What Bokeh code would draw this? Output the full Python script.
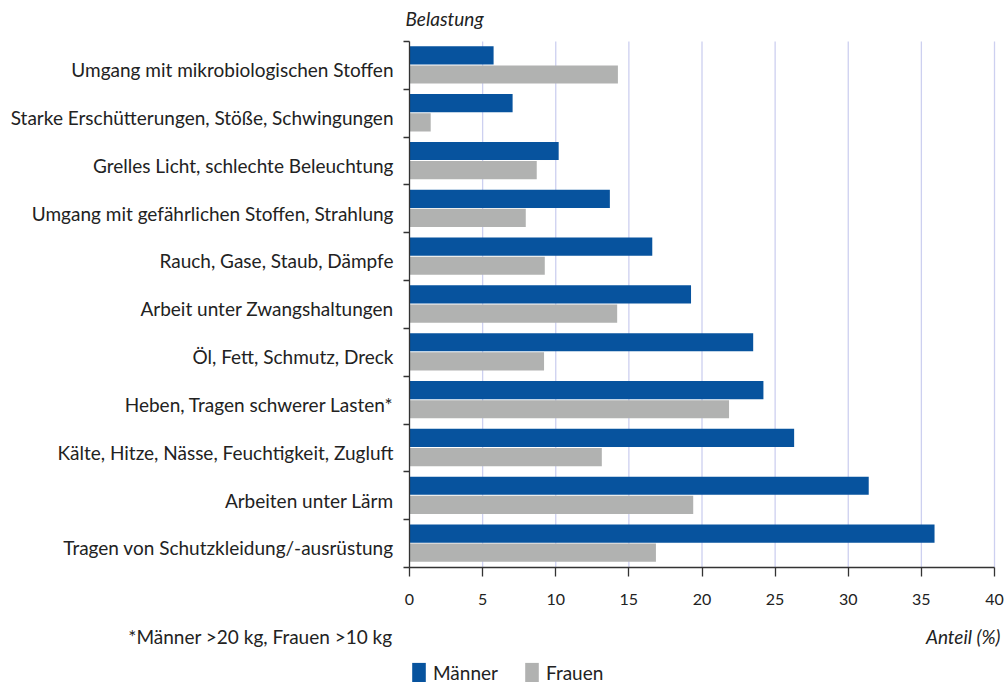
from bokeh.plotting import figure
from bokeh.models import (Range1d, FixedTicker, Label, Legend, LegendItem, ColumnDataSource)
from bokeh.embed import file_html
from bokeh.resources import INLINE

# Data (bottom to top)
categories = [
    "Tragen von Schutzkleidung/-ausrüstung",
    "Arbeiten unter Lärm",
    "Kälte, Hitze, Nässe, Feuchtigkeit, Zugluft",
    "Heben, Tragen schwerer Lasten*",
    "Öl, Fett, Schmutz, Dreck",
    "Arbeit unter Zwangshaltungen",
    "Rauch, Gase, Staub, Dämpfe",
    "Umgang mit gefährlichen Stoffen, Strahlung",
    "Grelles Licht, schlechte Beleuchtung",
    "Starke Erschütterungen, Stöße, Schwingungen",
    "Umgang mit mikrobiologischen Stoffen",
]
maenner = [35.9, 31.4, 26.3, 24.2, 23.5, 19.25, 16.6, 13.7, 10.2, 7.05, 5.75]
frauen = [16.85, 19.4, 13.15, 21.85, 9.2, 14.2, 9.25, 7.95, 8.7, 1.45, 14.25]
x_ticks = [0, 5, 10, 15, 20, 25, 30, 35, 40]

FONT = "Lato"
BLUE = "#07539E"
GREY = "#B1B2B1"
TXT = "#222222"
AXIS = "#333333"
GRID = "#CDD0F0"

n = len(categories)
centers = [i + 0.5 for i in range(n)]
label_pos = [c - 0.09 for c in centers]
bounds = [float(i) for i in range(n + 1)]

W, H = 1007, 682
# frame covers the whole canvas; axes are pinned at x=0 / y=0
PX_X = 14.625      # pixels per percent
PX_Y = 47.818      # pixels per category band
X0_PX, Y0_PX = 409, 567
x_range = Range1d(-X0_PX / PX_X, (W - X0_PX) / PX_X)
y_range = Range1d(-(H - Y0_PX) / PX_Y, Y0_PX / PX_Y)

src = ColumnDataSource(dict(
    cat=categories,
    y_m=[c + 0.21 for c in centers],
    y_f=[c - 0.19 for c in centers],
    m=maenner,
    f=frauen,
))
grid_src = ColumnDataSource(dict(x=x_ticks[1:], y0=[0] * (len(x_ticks) - 1),
                                 y1=[n] * (len(x_ticks) - 1)))

p = figure(width=W, height=H, output_backend="svg", toolbar_location=None,
           x_range=x_range, y_range=y_range,
           min_border_left=0, min_border_right=0, min_border_top=0,
           min_border_bottom=0)
p.outline_line_color = None
p.background_fill_color = "white"
p.border_fill_color = "white"
p.xgrid.grid_line_color = None
p.ygrid.grid_line_color = None

# vertical grid lines behind the bars
p.segment(x0="x", y0="y0", x1="x", y1="y1", source=grid_src,
          line_color=GRID, line_width=1.3, level="underlay")

r_m = p.hbar(y="y_m", left=0, right="m", height=0.38, source=src,
             fill_color=BLUE, line_color=None)
r_f = p.hbar(y="y_f", left=0, right="f", height=0.38, source=src,
             fill_color=GREY, line_color=None)

# x axis
xa = p.xaxis[0]
xa.fixed_location = 0
xa.bounds = (0, 40)
xa.ticker = FixedTicker(ticks=x_ticks)
xa.axis_line_color = AXIS
xa.axis_line_width = 1.3
xa.major_tick_line_color = AXIS
xa.major_tick_line_width = 1.3
xa.major_tick_out = 9
xa.major_tick_in = 0
xa.minor_tick_line_color = None
xa.major_label_standoff = 17
xa.major_label_text_font = FONT
xa.major_label_text_font_size = "16px"
xa.major_label_text_color = TXT

# y axis
ya = p.yaxis[0]
ya.fixed_location = 0
ya.bounds = (0, n)
ya.ticker = FixedTicker(ticks=label_pos, minor_ticks=bounds)
ya.major_label_overrides = {c: cat for c, cat in zip(label_pos, categories)}
ya.axis_line_color = AXIS
ya.axis_line_width = 1.3
ya.major_tick_line_color = None
ya.major_tick_out = 6
ya.minor_tick_line_color = AXIS
ya.minor_tick_line_width = 1.3
ya.minor_tick_out = 6
ya.minor_tick_in = 0
ya.major_label_standoff = 10
ya.major_label_text_font = FONT
ya.major_label_text_font_size = "19px"
ya.major_label_text_color = TXT

# Texts
p.add_layout(Label(x=-0.27, y=11.48, text="Belastung",
                   text_font=FONT, text_font_style="italic", text_font_size="19px",
                   text_color=TXT, text_baseline="middle", text_align="left"))
p.add_layout(Label(x=-1.16, y=-1.44,
                   text="*Männer >20 kg, Frauen >10 kg", text_font=FONT,
                   text_font_size="19px", text_color=TXT,
                   text_baseline="middle", text_align="right"))
p.add_layout(Label(x=40.41, y=-1.44, text="Anteil (%)",
                   text_font=FONT, text_font_style="italic", text_font_size="19px",
                   text_color=TXT, text_baseline="middle", text_align="right"))

legend = Legend(items=[LegendItem(label="Männer", renderers=[r_m]),
                       LegendItem(label="Frauen", renderers=[r_f])],
                location=(X0_PX + 1, -2), orientation="horizontal",
                glyph_width=17, glyph_height=24, label_height=18,
                label_standoff=6, spacing=25, padding=0, margin=0,
                label_text_font=FONT, label_text_font_size="19px",
                label_text_color=TXT,
                background_fill_alpha=0, border_line_color=None)
p.add_layout(legend, "center")

open("out.html", "w").write(file_html(p, INLINE))
